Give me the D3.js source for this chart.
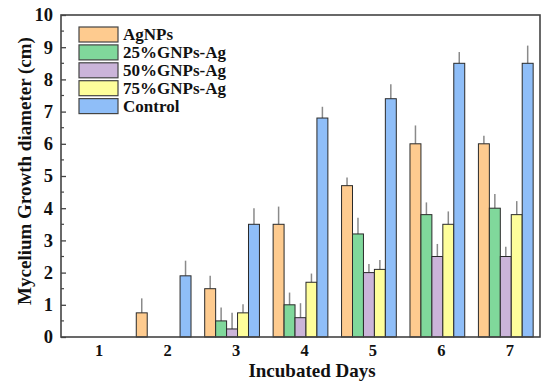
<!DOCTYPE html>
<html>
<head>
<meta charset="utf-8">
<script src="https://cdn.jsdelivr.net/npm/d3@7"></script>
<style>
  body { margin: 0; background: #fff; }
  text { font-family: "Liberation Serif", "Times New Roman", serif; font-weight: bold; fill: #111; }
</style>
</head>
<body>
<div id="chart"></div>
<script>
// data
const days = ["1", "2", "3", "4", "5", "6", "7"];
const seriesNames = ["AgNPs", "25%GNPs-Ag", "50%GNPs-Ag", "75%GNPs-Ag", "Control"];
const agnps     = [0, 0.75, 1.5, 3.5, 4.7, 6.0, 6.0];
const gnps25    = [0, 0, 0.5, 1.0, 3.2, 3.8, 4.0];
const gnps50    = [0, 0, 0.25, 0.6, 2.0, 2.5, 2.5];
const gnps75    = [0, 0, 0.75, 1.7, 2.1, 3.5, 3.8];
const control   = [0, 1.9, 3.5, 6.8, 7.4, 8.5, 8.5];
const agnpsErr  = [0, 0.45, 0.4, 0.55, 0.25, 0.57, 0.25];
const gnps25Err = [0, 0, 0.42, 0.38, 0.5, 0.38, 0.44];
const gnps50Err = [0, 0, 0.5, 0.45, 0.27, 0.39, 0.3];
const gnps75Err = [0, 0, 0.27, 0.27, 0.29, 0.4, 0.42];
const controlErr = [0, 0.47, 0.5, 0.35, 0.45, 0.35, 0.55];
const yTicks = [0, 1, 2, 3, 4, 5, 6, 7, 8, 9, 10];
const colors = ["#FECB8F", "#80D89B", "#CBB4D9", "#FEFE9B", "#8FBEF8"];

const allValues = [agnps, gnps25, gnps50, gnps75, control];
const allErrs = [agnpsErr, gnps25Err, gnps50Err, gnps75Err, controlErr];

let margin = { left: 61, right: 10, top: 15, bottom: 47 };
let width = 550, height = 384;
let chart_width = width - margin.left - margin.right;
let chart_height = height - margin.top - margin.bottom;

let svg = d3.select("#chart").append("svg")
  .attr("width", width)
  .attr("height", height);

let g = svg.append("g")
  .attr("transform", `translate(${margin.left},${margin.top})`);

// scales
let x = d3.scaleBand().domain(days).range([0, chart_width]).padding(0);
let xSub = d3.scaleBand().domain(seriesNames)
  .range([x.bandwidth() * 0.1, x.bandwidth() * 0.9]);
let y = d3.scaleLinear().domain([0, 10]).range([chart_height, 0]);
let color = d3.scaleOrdinal().domain(seriesNames).range(colors);

// flatten into rows for drawing
let rows = [];
days.forEach((d, i) => {
  seriesNames.forEach((s, j) => {
    rows.push({ day: d, series: s, value: allValues[j][i], err: allErrs[j][i] });
  });
});

// error bars (behind bars, only upper whisker visible)
g.append("g").selectAll("line")
  .data(rows.filter(r => r.value > 0))
  .enter().append("line")
  .attr("x1", r => x(r.day) + xSub(r.series) + xSub.bandwidth() / 2)
  .attr("x2", r => x(r.day) + xSub(r.series) + xSub.bandwidth() / 2)
  .attr("y1", r => y(r.value))
  .attr("y2", r => y(r.value + r.err))
  .attr("stroke", "#8a8a8a")
  .attr("stroke-width", 1.5);

// bars
g.append("g").selectAll("rect")
  .data(rows.filter(r => r.value > 0))
  .enter().append("rect")
  .attr("x", r => x(r.day) + xSub(r.series))
  .attr("y", r => y(r.value))
  .attr("width", xSub.bandwidth())
  .attr("height", r => chart_height - y(r.value))
  .attr("fill", r => color(r.series))
  .attr("stroke", "#2a2a2a")
  .attr("stroke-width", 1);

// frame
g.append("rect")
  .attr("width", chart_width)
  .attr("height", chart_height)
  .attr("fill", "none")
  .attr("stroke", "#444")
  .attr("stroke-width", 1.6);

// y axis with inward ticks
let yAxis = d3.axisLeft(y).tickValues(yTicks).tickSize(-5).tickPadding(8);
let yg = g.append("g").call(yAxis);
yg.select(".domain").remove();
yg.selectAll("line").attr("stroke", "#444").attr("stroke-width", 1.3);
yg.selectAll("text").attr("font-size", "18.5px").attr("font-family", null).attr("fill", "#111");

// minor ticks
g.append("g").selectAll("line")
  .data(d3.range(0.5, 10, 1))
  .enter().append("line")
  .attr("x1", 0).attr("x2", 3)
  .attr("y1", d => y(d)).attr("y2", d => y(d))
  .attr("stroke", "#444").attr("stroke-width", 1.2);

// x axis (no ticks)
let xAxis = d3.axisBottom(x).tickSize(0).tickPadding(7);
let xg = g.append("g").attr("transform", `translate(0,${chart_height})`).call(xAxis);
xg.select(".domain").remove();
xg.selectAll("text").attr("font-size", "16.5px").attr("font-family", null)
  .attr("fill", "#111").attr("dx", "4");

// axis labels
g.append("text")
  .attr("x", 251).attr("y", chart_height + 40)
  .attr("text-anchor", "middle")
  .attr("font-size", "19px")
  .text("Incubated Days");

g.append("text")
  .attr("transform", "rotate(-90)")
  .attr("x", -chart_height / 2 + 5)
  .attr("y", -30)
  .attr("text-anchor", "middle")
  .attr("font-size", "19px")
  .text("Mycelium Growth diameter (cm)");

// legend
let legend = g.append("g").attr("transform", "translate(18,12)");
seriesNames.forEach((s, i) => {
  let row = legend.append("g").attr("transform", `translate(0,${i * 17.9})`);
  row.append("rect")
    .attr("width", 39).attr("height", 15)
    .attr("fill", color(s))
    .attr("stroke", "#444").attr("stroke-width", 1.2);
  row.append("text")
    .attr("x", 44).attr("y", 13)
    .attr("font-size", "17px")
    .text(s);
});
</script>
</body>
</html>
